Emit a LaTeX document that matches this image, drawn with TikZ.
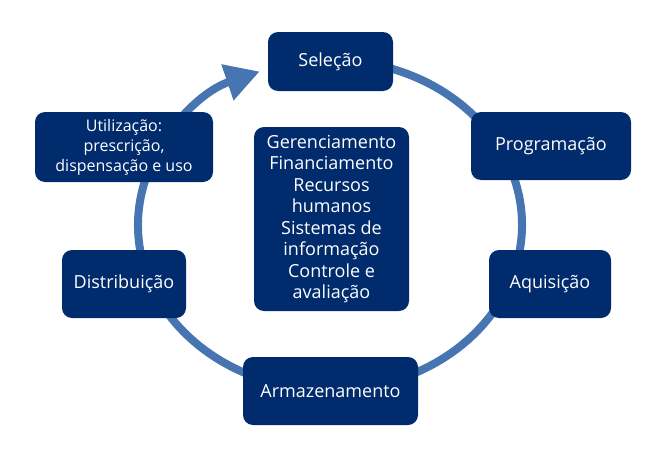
\documentclass[tikz,border=0pt]{standalone}
\usepackage{fontspec}
\setmainfont{Open Sans}
\usetikzlibrary{arrows.meta}
\definecolor{boxblue}{RGB}{0,43,108}
\definecolor{arcblue}{RGB}{70,117,178}
\tikzset{
  box/.style={draw=none, fill=boxblue, rounded corners=10pt, text=white,
    align=center, inner sep=0pt, font=\fontsize{18}{21.5}\selectfont},
  cyc/.style={draw=arcblue, line width=8pt},
}
\begin{document}
\begin{tikzpicture}[x=1pt,y=-1pt]
\useasboundingbox (0,0) rectangle (664,463);
\coordinate (c) at (330,225);
\draw[cyc, -{Triangle[length=34pt,width=36pt]}]
  (c) ++(80:192 and -165) coordinate (s)
  arc[start angle=-80, end angle=248.5, x radius=192, y radius=165];
\node[box, minimum width=125pt, minimum height=59pt] (sel) at (330.5,61.5) {Seleção};
\node[box, minimum width=160pt, minimum height=68pt] (prog) at (551,146) {Programação};
\node[box, minimum width=122pt, minimum height=68pt] (aq) at (550,284) {Aquisição};
\node[box, minimum width=175pt, minimum height=68pt] (arm) at (330.5,391) {Armazenamento};
\node[box, minimum width=124pt, minimum height=68pt] (dist) at (124,284) {Distribuição};
\node[box, minimum width=178pt, minimum height=70pt, font=\fontsize{16}{20}\selectfont] (util) at (124,147) {Utilização:\\prescrição,\\dispensação e uso};
\node[box, minimum width=155pt, minimum height=184pt] (mid) at (331.5,219) {Gerenciamento\\Financiamento\\Recursos\\humanos\\Sistemas de\\informação\\Controle e\\avaliação};
\end{tikzpicture}
\end{document}
